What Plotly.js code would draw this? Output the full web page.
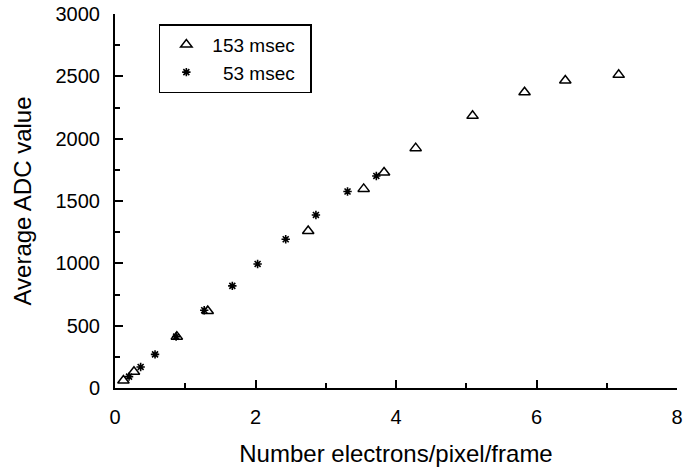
<!DOCTYPE html>
<html>
<head>
<meta charset="utf-8">
<script src="https://cdn.plot.ly/plotly-3.0.1.min.js"></script>
<style>html,body{margin:0;padding:0;background:#fff;}#chart{width:686px;height:469px;}</style>
</head>
<body>
<div id="chart"></div>
<script>
// 153 msec series (triangles)
const x153 = [0.12, 0.27, 0.88, 1.32, 2.75, 3.54, 3.83, 4.28, 5.09, 5.83, 6.41, 7.17];
const y153 = [60, 131, 412, 618, 1260, 1597, 1728, 1924, 2183, 2373, 2466, 2512];
// 53 msec series (asterisks)
const x53 = [0.20, 0.365, 0.57, 0.87, 1.27, 1.67, 2.03, 2.43, 2.86, 3.31, 3.72];
const y53 = [91, 169, 270, 412, 624, 819, 995, 1193, 1388, 1576, 1701];
const seriesNames = ["153 msec&nbsp;&nbsp;", "&nbsp;&nbsp;53 msec&nbsp;&nbsp;"];

const FONT = "Liberation Sans, Arial, Helvetica, sans-serif";

const traces = [
  {x: x153, y: y153, name: seriesNames[0], legendgroup: 'a', type: 'scatter', mode: 'markers', cliponaxis: false,
   marker: {symbol: 'triangle-up-open', size: 10, color: '#000', line: {color: '#000', width: 1.5}}},
  {x: x53, y: y53, name: seriesNames[1], legendgroup: 'b', type: 'scatter', mode: 'markers', cliponaxis: false,
   marker: {symbol: 'asterisk-open', size: 7, color: '#000', line: {color: '#000', width: 1.6}}}
];

const axisCommon = {
  showline: true, linecolor: '#000', linewidth: 2, mirror: false,
  showgrid: false, zeroline: false,
  ticks: 'inside', ticklen: 8, tickwidth: 2, tickcolor: '#000',
  tickfont: {family: FONT, size: 20, color: '#000'}
};

const layout = {
  width: 686, height: 469,
  margin: {l: 115, r: 9, t: 14, b: 81},
  paper_bgcolor: '#fff', plot_bgcolor: '#fff',
  font: {family: FONT, color: '#000'},
  showlegend: true,
  legend: {
    x: 0.078, y: 0.973, xanchor: 'left', yanchor: 'top',
    bordercolor: '#000', borderwidth: 1.5, bgcolor: '#fff',
    font: {family: FONT, size: 19, color: '#000'},
    itemwidth: 42, tracegroupgap: 0
  },
  xaxis: Object.assign({}, axisCommon, {
    range: [0, 8], dtick: 2, tick0: 0, ticklabelstandoff: 10,
    minor: {ticks: 'inside', dtick: 1, ticklen: 5, tickwidth: 2, tickcolor: '#000', showgrid: false},
    title: {text: 'Number electrons/pixel/frame', font: {family: FONT, size: 24, color: '#000'}, standoff: 18}
  }),
  yaxis: Object.assign({}, axisCommon, {
    range: [0, 3000], dtick: 500, tick0: 0, ticklabelstandoff: 9,
    minor: {ticks: 'inside', dtick: 250, ticklen: 5, tickwidth: 2, tickcolor: '#000', showgrid: false},
    title: {text: 'Average ADC value', font: {family: FONT, size: 24, color: '#000'}, standoff: 17}
  })
};

Plotly.newPlot('chart', traces, layout, {displayModeBar: false, staticPlot: true});
</script>
</body>
</html>
